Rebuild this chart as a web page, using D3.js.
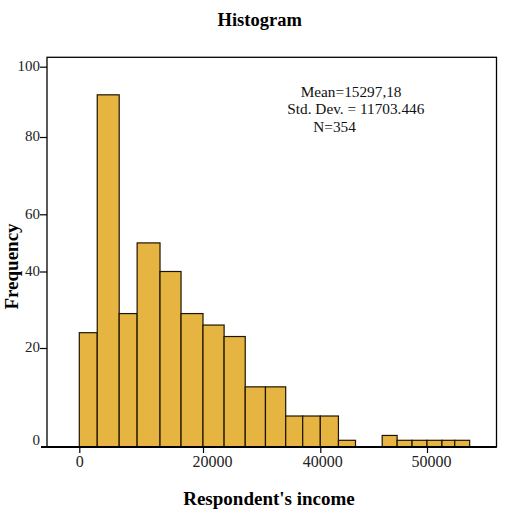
<!DOCTYPE html>
<html>
<head>
<meta charset="utf-8">
<script src="https://cdn.jsdelivr.net/npm/d3@7"></script>
<style>
  html, body { margin: 0; padding: 0; background: #fff; }
  svg { display: block; font-family: "Liberation Serif", "Times New Roman", serif; }
</style>
</head>
<body>
<svg id="chart" width="507" height="514"></svg>
<script>
// ---- data ----
const binEdges = [0, 2900, 6450, 9350, 13050, 16450, 20000, 23600, 27200, 30650, 34100, 37000,
                  40000, 41700, 43300, 44550, 45800, 47200, 48600, 50000, 51400, 52600, 54000];
const counts = [24, 92, 29, 50, 40, 29, 26, 23, 12, 12, 6, 6, 6, 1, 0, 0, 2, 1, 1, 1, 1, 1];
const xTicks = [0, 20000, 40000, 50000];
const yTicks = [0, 20, 40, 60, 80, 100];
const statLines = ["Mean=15297,18", "Std. Dev. = 11703.446", "N=354"];
const titleText = "Histogram";
const xLabel = "Respondent's income";
const yLabel = "Frequency";

const bins = counts.map((c, i) => ({ x0: binEdges[i], x1: binEdges[i + 1], n: c }));

// ---- layout ----
const svg = d3.select("#chart");
const frame = { left: 47, top: 57.3, right: 496.5, bottom: 447 };

// the reference axes are unevenly spaced, so piecewise scales are used
const x = d3.scaleLinear().domain([0, 20000, 40000, 50000]).range([79.3, 203, 320.3, 427]);
const y = d3.scaleLinear().domain([0, 1, 20, 40, 60, 80, 100])
  .range([447, 440.3, 348, 271.5, 214.3, 137, 66.7]);

// frame
svg.append("rect")
  .attr("x", frame.left).attr("y", frame.top)
  .attr("width", frame.right - frame.left).attr("height", frame.bottom - frame.top)
  .attr("fill", "none").attr("stroke", "#000").attr("stroke-width", 1.3);

// bars
svg.append("g").selectAll("rect")
  .data(bins.filter(d => d.n > 0))
  .join("rect")
  .attr("x", d => x(d.x0))
  .attr("y", d => y(d.n))
  .attr("width", d => x(d.x1) - x(d.x0))
  .attr("height", d => y(0) - y(d.n))
  .attr("fill", "#E6B441")
  .attr("stroke", "#1e1400")
  .attr("stroke-width", 1.2);

// x axis
const xLabelShift = [0, 9, 2, 4];
const xAxis = svg.append("g")
  .attr("transform", `translate(0,${frame.bottom})`)
  .call(d3.axisBottom(x).tickValues(xTicks).tickFormat(d3.format("d")).tickSize(6).tickPadding(3));
xAxis.select(".domain").remove();
xAxis.selectAll("line").attr("stroke", "#000").attr("stroke-width", 1.2);
xAxis.selectAll("text").attr("font-size", 16).attr("fill", "#222")
  .attr("font-family", "Liberation Serif, serif")
  .attr("dx", (d, i) => xLabelShift[i]);
svg.append("line")
  .attr("x1", 41).attr("x2", frame.right)
  .attr("y1", frame.bottom).attr("y2", frame.bottom)
  .attr("stroke", "#000").attr("stroke-width", 2);

// y axis
const yAxis = svg.append("g")
  .attr("transform", `translate(${frame.left},0)`)
  .call(d3.axisLeft(y).tickValues(yTicks).tickFormat(d3.format("d")).tickSize(7).tickPadding(0));
yAxis.select(".domain").remove();
yAxis.selectAll("line").attr("stroke", "#000").attr("stroke-width", 1.2);
yAxis.selectAll("text").attr("font-size", 15).attr("fill", "#222")
  .attr("font-family", "Liberation Serif, serif");
yAxis.selectAll(".tick").filter(d => d === 0).select("line").remove();
yAxis.selectAll(".tick").filter(d => d === 0).select("text").attr("dy", "-0.15em");
yAxis.selectAll(".tick text").filter(d => d !== 0).attr("dy", "0.25em");

// stats annotation
const statX = [300.7, 287.3, 313.3];
const statY = [96.7, 113.5, 131.5];
svg.append("g").selectAll("text")
  .data(statLines)
  .join("text")
  .attr("x", (d, i) => statX[i])
  .attr("y", (d, i) => statY[i])
  .attr("font-size", 15.3)
  .attr("fill", "#111")
  .text(d => d);

// title & labels
svg.append("text")
  .attr("x", 259.7).attr("y", 26)
  .attr("text-anchor", "middle")
  .attr("font-size", 18.5).attr("font-weight", "bold")
  .text(titleText);

svg.append("text")
  .attr("x", 269).attr("y", 505)
  .attr("text-anchor", "middle")
  .attr("font-size", 19).attr("font-weight", "bold")
  .text(xLabel);

svg.append("text")
  .attr("transform", "translate(18.3,266.5) rotate(-90)")
  .attr("text-anchor", "middle")
  .attr("font-size", 19).attr("font-weight", "bold")
  .text(yLabel);
</script>
</body>
</html>
